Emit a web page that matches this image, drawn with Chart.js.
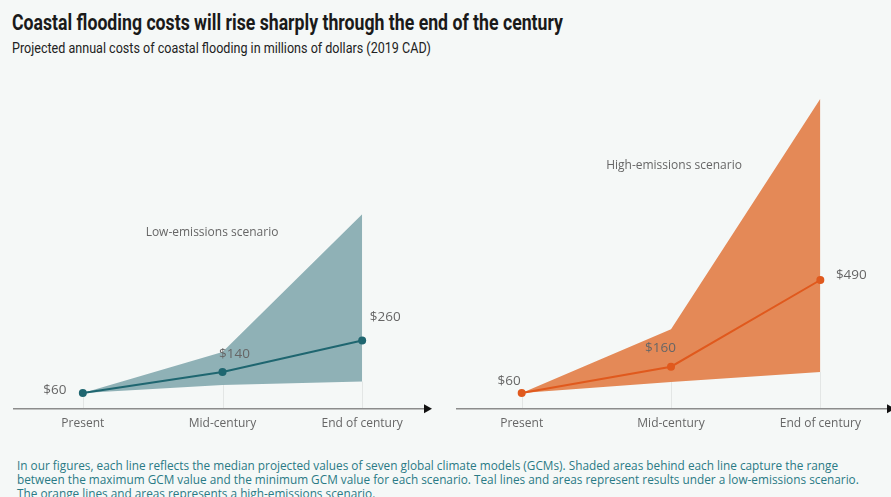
<!DOCTYPE html>
<html>
<head>
<meta charset="utf-8">
<script src="https://cdn.jsdelivr.net/npm/chart.js@4"></script>
<style>
  html, body { margin: 0; padding: 0; }
  body {
    width: 891px; height: 497px; overflow: hidden; position: relative;
    background: #f5f8f7;
  }
  #title {
    position: absolute; left: 12px; top: 10px; white-space: nowrap;
    font-family: "Roboto", sans-serif; font-weight: bold;
    font-size: 22px; line-height: 26px; color: #1a1a1a;
    transform-origin: 0 0;
  }
  #subtitle {
    position: absolute; left: 12px; top: 39px; white-space: nowrap;
    font-family: "Roboto", sans-serif;
    font-size: 15.5px; line-height: 18px; color: #222;
    transform-origin: 0 0;
  }
  #note {
    position: absolute; left: 17px; top: 458px; white-space: nowrap;
    font-family: "Open Sans", sans-serif; font-size: 11.8px; line-height: 14px; color: #2a7a85;
    transform-origin: 0 0;
  }
  canvas { position: absolute; top: 60px; }
  #lowChart { left: 0px; }
  #highChart { left: 445px; }
</style>
</head>
<body>
<div id="title" data-fit="551">Coastal flooding costs will rise sharply through the end of the century</div>
<div id="subtitle" data-fit="419">Projected annual costs of coastal flooding in millions of dollars (2019 CAD)</div>
<canvas id="lowChart" width="445" height="380"></canvas>
<canvas id="highChart" width="455" height="380"></canvas>
<div id="note">In our figures, each line reflects the median projected values of seven global climate models (GCMs). Shaded areas behind each line capture the range<br>between the maximum GCM value and the minimum GCM value for each scenario. Teal lines and areas represent results under a low-emissions scenario.<br>The orange lines and areas represents a high-emissions scenario.</div>

<script>
const periods = ["Present", "Mid-century", "End of century"];

// low-emissions: median and GCM range
const lowMedian = [60, 140, 260];
const lowMax = [60, 216, 740];
const lowMin = [60, 90, 104];

// high-emissions: median and GCM range
const highMedian = [60, 160, 490];
const highMax = [60, 302, 1180];
const highMin = [60, 102, 140];

const Y_MAX = 1200;
const FONT = "'Open Sans', sans-serif";

// squeeze the heading lines into a condensed width
document.querySelectorAll("[data-fit]").forEach((el) => {
    const w = el.getBoundingClientRect().width;
    el.style.transform = `scaleX(${Number(el.dataset.fit) / w})`;
});

function points(values) {
    return values.map((v, i) => ({ x: i, y: v }));
}

// faint drop lines, then the axis with an arrow head
const axisPlugin = {
    id: "axisArrow",
    beforeDatasetsDraw(chart) {
        const { ctx, scales } = chart;
        const y0 = scales.y.getPixelForValue(0);
        const mins = chart.data.datasets[2].data;
        ctx.save();
        ctx.strokeStyle = "rgba(0,0,0,0.07)";
        ctx.lineWidth = 1;
        mins.forEach((p) => {
            const x = Math.round(scales.x.getPixelForValue(p.x)) + 0.5;
            ctx.beginPath();
            ctx.moveTo(x, y0);
            ctx.lineTo(x, scales.y.getPixelForValue(p.y));
            ctx.stroke();
        });
        ctx.restore();
    },
    afterDatasetsDraw(chart) {
        const { ctx, chartArea, scales } = chart;
        const y0 = scales.y.getPixelForValue(0);
        const right = chartArea.right;
        ctx.save();
        ctx.strokeStyle = "#8c8c8c";
        ctx.lineWidth = 1.5;
        ctx.beginPath();
        ctx.moveTo(chartArea.left, y0);
        ctx.lineTo(right - 6, y0);
        ctx.stroke();
        ctx.fillStyle = "#111";
        ctx.beginPath();
        ctx.moveTo(right, y0);
        ctx.lineTo(right - 8, y0 - 4.5);
        ctx.lineTo(right - 8, y0 + 4.5);
        ctx.closePath();
        ctx.fill();
        ctx.restore();
    },
};

// "$" value labels next to the median points plus the scenario name
const labelPlugin = {
    id: "valueLabels",
    afterDatasetsDraw(chart, args, opts) {
        const { ctx, scales } = chart;
        const meta = chart.getDatasetMeta(0);
        ctx.save();
        ctx.fillStyle = "#666";
        ctx.textAlign = "center";
        ctx.textBaseline = "middle";
        ctx.font = "13.5px " + FONT;
        meta.data.forEach((el, i) => {
            const v = chart.data.datasets[0].data[i].y;
            const [dx, dy] = opts.offsets[i];
            ctx.fillText("$" + v, el.x + dx, el.y + dy);
        });
        ctx.font = "12px " + FONT;
        ctx.fillText(
            opts.scenario,
            scales.x.getPixelForValue(opts.scenarioAt[0]),
            scales.y.getPixelForValue(opts.scenarioAt[1])
        );
        ctx.restore();
    },
};

function makeChart(id, median, max, min, style) {
    return new Chart(document.getElementById(id), {
        type: "line",
        data: {
            datasets: [
                {
                    data: points(median),
                    borderColor: style.line,
                    backgroundColor: style.line,
                    borderWidth: 2,
                    pointRadius: 4,
                    pointBorderWidth: 0,
                    fill: false,
                },
                {
                    data: points(max),
                    borderWidth: 0,
                    pointRadius: 0,
                    backgroundColor: style.area,
                    fill: "+1",
                },
                {
                    data: points(min),
                    borderWidth: 0,
                    pointRadius: 0,
                    fill: false,
                },
            ],
        },
        options: {
            responsive: false,
            animation: false,
            events: [],
            layout: {
                padding: style.padding,
            },
            scales: {
                x: {
                    type: "linear",
                    min: style.xRange[0],
                    max: style.xRange[1],
                    grid: { display: false },
                    border: { display: false },
                    afterBuildTicks: (scale) => {
                        scale.ticks = periods.map((_, i) => ({ value: i }));
                    },
                    afterFit: (scale) => {
                        scale.height = 30;
                    },
                    ticks: {
                        autoSkip: false,
                        maxRotation: 0,
                        padding: 0,
                        color: "#666",
                        font: { family: FONT, size: 12 },
                        callback: (value) => periods[value],
                    },
                },
                y: {
                    display: false,
                    min: 0,
                    max: Y_MAX,
                },
            },
            plugins: {
                legend: { display: false },
                tooltip: { enabled: false },
                valueLabels: {
                    offsets: style.offsets,
                    scenario: style.scenario,
                    scenarioAt: style.scenarioAt,
                },
            },
        },
        plugins: [axisPlugin, labelPlugin],
    });
}

makeChart("lowChart", lowMedian, lowMax, lowMin, {
    line: "#1f6670",
    area: "#8fb1b6",
    padding: { left: 13, right: 13, top: 33.5, bottom: 1.3 },
    xRange: [-0.5, 2.5],
    offsets: [[-28, -3], [12, -18], [23, -23]],
    scenario: "Low-emissions scenario",
    scenarioAt: [0.925, 669],
});

makeChart("highChart", highMedian, highMax, highMin, {
    line: "#e0591d",
    area: "#e48957",
    padding: { left: 11, right: 5, top: 33.5, bottom: 1.3 },
    xRange: [-0.44, 2.5],
    offsets: [[-12.5, -12], [-10.5, -19], [31, -5]],
    scenario: "High-emissions scenario",
    scenarioAt: [1.02, 924],
});
</script>
</body>
</html>
